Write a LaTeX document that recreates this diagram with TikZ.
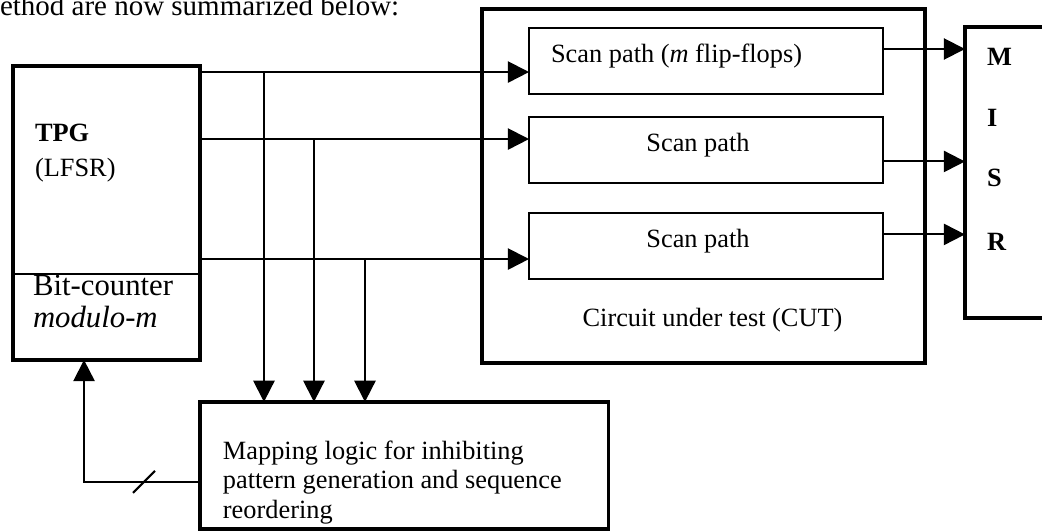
\documentclass[tikz,border=0pt,12pt]{standalone}
\usepackage{fontspec}
\setmainfont{Liberation Serif}
\usetikzlibrary{positioning}
\usetikzlibrary{calc}
\usetikzlibrary{arrows.meta}

\begin{document}
\begin{tikzpicture}[x=0.016cm,y=-0.016cm,inner sep=0pt,outer sep=0pt,>={Triangle[length=.34cm,width=.34cm]},
	blk/.style={rectangle,draw=black,line width=1.5pt},
	scan/.style={rectangle,draw=black,line width=.75pt,minimum width=5.664cm,minimum height=1.056cm},
	wire/.style={line width=.9pt}]
	\path[use as bounding box,fill=white] (0,0) rectangle (1042,531);
	\node[anchor=base west,font=\fontsize{13.2}{15}\selectfont] (head) at (0,16){ethod are now summarized below:};
	\node[minimum width=2.992cm,minimum height=3.328cm] (tpg) at (106.5,170){};
	\node[minimum width=2.992cm,minimum height=1.376cm] (cnt)[below = 0cm of tpg]{};
	\draw[blk] (tpg.north west) rectangle (cnt.south east);
	\draw[wire] (tpg.south west) -- (tpg.south east);
	\node[anchor=base west,font=\bfseries] (tpgname) at ($(tpg.north west)+(22,75)$){TPG};
	\node[anchor=base west] (lfsr) at ($(tpg.north west)+(22,110)$){(LFSR)};
	\node[anchor=base west,font=\fontsize{14}{16}\selectfont] (bitc) at ($(cnt.north west)+(20,22)$){Bit-counter};
	\node[anchor=base west,font=\fontsize{14}{16}\selectfont\itshape] (modm) at ($(cnt.north west)+(20,54)$){modulo-m};
	\node[blk,minimum width=7.088cm,minimum height=5.664cm] (cut) at (703.5,186){};
	\node[scan] (sp1) at (706,61){};
	\node[scan] (sp2)[below = .368cm of sp1]{};
	\node[scan] (sp3)[below = .48cm of sp2]{};
	\node[anchor=base west] (sp1txt) at ($(sp1.west)+(22,2)$){Scan path (\textit{m} flip-flops)};
	\node[anchor=base] (sp2txt) at ($(sp2.center)+(-8,1.5)$){Scan path};
	\node[anchor=base] (sp3txt) at ($(sp3.center)+(-8,1.5)$){Scan path};
	\node[anchor=base] (cuttxt) at ($(cut.south)+(9,-36)$){Circuit under test (CUT)};
	\node[blk,anchor=north west,minimum width=1.6cm,minimum height=4.656cm] (misr) at (965,27){};
	\foreach \ch/\dy in {M/39,I/100,S/159,R/223}
		\node[anchor=base west,font=\bfseries] (misr\ch) at ($(misr.north west)+(22,\dy)$){\ch};
	\node[blk,minimum width=6.544cm,minimum height=2.032cm] (map)[below = .672cm of cnt.south east,anchor=north west]{};
	\node[anchor=north west,align=left,font=\fontsize{12}{13.4}\selectfont] (maptxt) at ($(map.north west)+(23,39)$){Mapping logic for inhibiting\\pattern generation and sequence\\reordering};
	\coordinate (t1) at ($(tpg.north east)+(0,6)$);
	\coordinate (t2) at ($(tpg.north east)+(0,73)$);
	\coordinate (t3) at ($(tpg.north east)+(0,193)$);
	\foreach \i/\dx in {1/64,2/114,3/165}{
		\draw[wire,->] (t\i) -- (t\i -| sp\i.west);
		\coordinate (d\i) at ($(t\i)+(\dx,0)$);
		\draw[wire,->] (d\i) -- (d\i |- map.north);
	}
	\coordinate (o1) at ($(sp1.east)+(0,-12)$);
	\coordinate (o2) at ($(sp2.east)+(0,11.5)$);
	\coordinate (o3) at ($(sp3.east)+(0,-11.5)$);
	\foreach \i in {1,2,3}
		\draw[wire,->] (o\i) -- (o\i -| misr.west);
	\coordinate (fb) at ($(map.north west)+(0,80)$);
	\draw[wire,->] (fb) -| ($(cnt.south west)+(71,0)$);
	\draw[wire] ($(fb)+(-67,11)$) -- ++(22,-22);
\end{tikzpicture}
\end{document}
